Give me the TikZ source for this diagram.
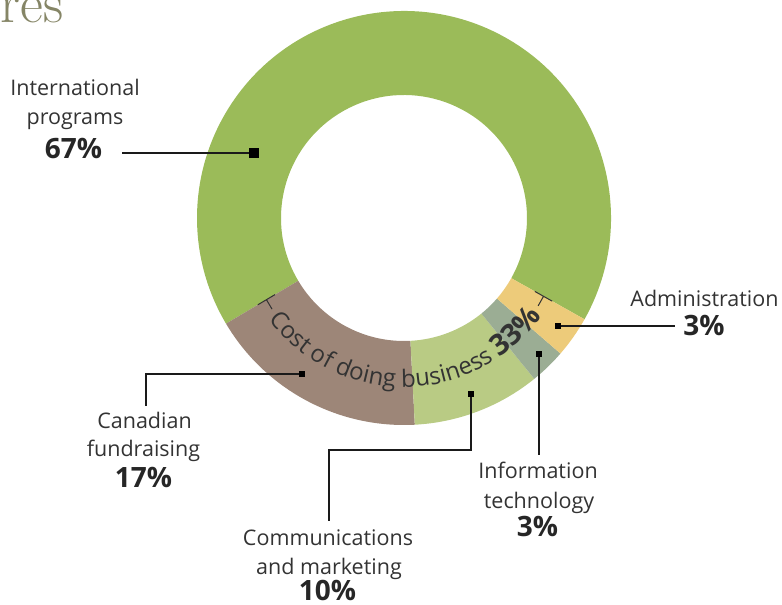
\documentclass[tikz,border=0pt]{standalone}
\usepackage{fontspec}
\setsansfont{Open Sans}
\usetikzlibrary{decorations.text}
\definecolor{ipgreen}{RGB}{155,187,89}
\definecolor{cfbrown}{RGB}{157,134,120}
\definecolor{cmgreen}{RGB}{185,203,132}
\definecolor{itgray}{RGB}{155,173,148}
\definecolor{adyellow}{RGB}{237,203,122}
\definecolor{txtgray}{RGB}{51,51,51}
\definecolor{pctgray}{RGB}{38,38,38}
\definecolor{linegray}{RGB}{26,26,26}
\definecolor{titleolive}{RGB}{133,133,102}
\begin{document}
\begin{tikzpicture}
  [x=1pt,y=1pt,
   lbl/.style={font=\sffamily\fontsize{21.5}{26}\selectfont,text=txtgray,anchor=base,inner sep=0pt},
   pct/.style={font=\sffamily\bfseries\fontsize{28}{30}\selectfont,text=pctgray,anchor=base,inner sep=0pt},
   sqdot/.style={fill=black,inner sep=0pt,minimum size=6pt},
   lead/.style={line width=1.5pt,color=linegray},
   brk/.style={line width=1pt,color=txtgray}]
  \useasboundingbox (0,0) rectangle (782,605);

  \node[font=\fontsize{56}{56}\selectfont,text=titleolive,anchor=base east,inner sep=0pt] (title) at (63.5,582) {res};

  % ring
  \begin{scope}[shift={(404,387)}]
    \foreach \s/\e/\col in {-29.3/210.7/ipgreen, 210.7/273/cfbrown, 273/309/cmgreen, 309/319.1/itgray, 319.1/330.7/adyellow}
      \fill[\col] (\s:207pt) arc[start angle=\s,end angle=\e,radius=207pt]
        -- (\e:123pt) arc[start angle=\e,end angle=\s,radius=123pt] -- cycle;

    \path[decorate,decoration={text along path,text align=center,text color=txtgray,
      text={|\sffamily\fontsize{24}{24}\selectfont|Cost of doing business |\sffamily\bfseries\fontsize{29}{29}\selectfont|33{\%}}}]
      (210.7:169pt) arc[start angle=210.7,end angle=330.7,radius=169pt];

    \draw[brk] (210.7:150pt) -- (210.7:170pt) (210.7:160pt) -- ++(300.7:11pt);
    \draw[brk] (330.7:150pt) -- (330.7:170pt) (330.7:160pt) -- ++(240.7:11pt);
  \end{scope}

  % markers
  \node[sqdot,minimum size=10.5pt] (mIP) at (254,452) {};
  \node[sqdot] (mAd) at (558,279) {};
  \node[sqdot] (mIT) at (539,251) {};
  \node[sqdot] (mCM) at (471,211) {};
  \node[sqdot] (mCF) at (302,231) {};

  \coordinate (eIP) at (122,452);
  \coordinate (eAd) at (675,279);
  \coordinate (eIT) at (539,150);
  \coordinate (kCM) at (471,155);
  \coordinate (eCM) at (329,84);
  \coordinate (eCF) at (146,199);

  \draw[lead,line width=2.5pt] (mIP) -- (eIP);
  \draw[lead] (mAd) -- (eAd);
  \draw[lead] (mIT) -- (eIT);
  \draw[lead] (mCM) -- (kCM) -| (eCM);
  \draw[lead] (mCF) -| (eCF);

  % labels
  \node[lbl] (ipA) at (75,509) {International};
  \node[lbl] (ipB) at (75,480) {programs};
  \node[pct] (ipC) at (73.5,446) {67\%};

  \node[lbl] (adA) at (704.5,298) {Administration};
  \node[pct] (adB) at (704,269) {3\%};

  \node[lbl] (itA) at (538,126) {Information};
  \node[lbl] (itB) at (539,96) {technology};
  \node[pct] (itC) at (537.5,68) {3\%};

  \node[lbl] (cmA) at (328,59) {Communications};
  \node[lbl] (cmB) at (329,30) {and marketing};
  \node[pct] (cmC) at (327.5,4.5) {10\%};

  \node[lbl] (cfA) at (144.5,176) {Canadian};
  \node[lbl] (cfB) at (143.5,148) {fundraising};
  \node[pct] (cfC) at (143.5,117) {17\%};
\end{tikzpicture}
\end{document}
